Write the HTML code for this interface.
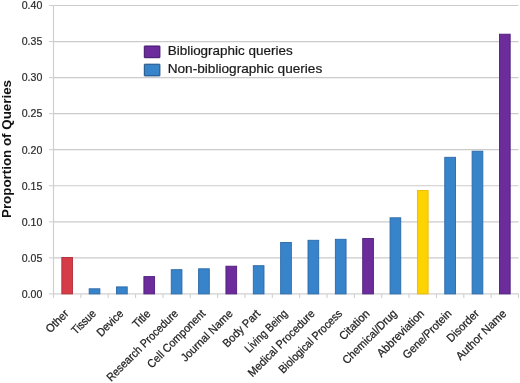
<!DOCTYPE html><html><head><meta charset="utf-8"><style>html,body{margin:0;padding:0;background:#fff;width:520px;height:383px;overflow:hidden}svg{display:block;will-change:transform}text{font-family:"Liberation Sans",sans-serif}</style></head><body>
<svg width="520" height="383" viewBox="0 0 520 383">
<line x1="53.50" y1="5.50" x2="518.50" y2="5.50" stroke="#CBCBCB" stroke-width="1.2"/>
<line x1="53.50" y1="41.55" x2="518.50" y2="41.55" stroke="#CBCBCB" stroke-width="1.2"/>
<line x1="53.50" y1="77.60" x2="518.50" y2="77.60" stroke="#CBCBCB" stroke-width="1.2"/>
<line x1="53.50" y1="113.65" x2="518.50" y2="113.65" stroke="#CBCBCB" stroke-width="1.2"/>
<line x1="53.50" y1="149.70" x2="518.50" y2="149.70" stroke="#CBCBCB" stroke-width="1.2"/>
<line x1="53.50" y1="185.75" x2="518.50" y2="185.75" stroke="#CBCBCB" stroke-width="1.2"/>
<line x1="53.50" y1="221.80" x2="518.50" y2="221.80" stroke="#CBCBCB" stroke-width="1.2"/>
<line x1="53.50" y1="257.85" x2="518.50" y2="257.85" stroke="#CBCBCB" stroke-width="1.2"/>
<line x1="49" y1="5.50" x2="53.50" y2="5.50" stroke="#D0D0D0" stroke-width="1.1"/>
<line x1="49" y1="41.55" x2="53.50" y2="41.55" stroke="#D0D0D0" stroke-width="1.1"/>
<line x1="49" y1="77.60" x2="53.50" y2="77.60" stroke="#D0D0D0" stroke-width="1.1"/>
<line x1="49" y1="113.65" x2="53.50" y2="113.65" stroke="#D0D0D0" stroke-width="1.1"/>
<line x1="49" y1="149.70" x2="53.50" y2="149.70" stroke="#D0D0D0" stroke-width="1.1"/>
<line x1="49" y1="185.75" x2="53.50" y2="185.75" stroke="#D0D0D0" stroke-width="1.1"/>
<line x1="49" y1="221.80" x2="53.50" y2="221.80" stroke="#D0D0D0" stroke-width="1.1"/>
<line x1="49" y1="257.85" x2="53.50" y2="257.85" stroke="#D0D0D0" stroke-width="1.1"/>
<line x1="49" y1="293.90" x2="53.50" y2="293.90" stroke="#D0D0D0" stroke-width="1.1"/>
<line x1="53.50" y1="5.50" x2="53.50" y2="293.90" stroke="#D0D0D0" stroke-width="1.2"/>
<line x1="53.50" y1="293.90" x2="518.50" y2="293.90" stroke="#D0D0D0" stroke-width="1.2"/>
<line x1="53.50" y1="293.90" x2="53.50" y2="297.90" stroke="#D0D0D0" stroke-width="1.1"/>
<line x1="80.85" y1="293.90" x2="80.85" y2="297.90" stroke="#D0D0D0" stroke-width="1.1"/>
<line x1="108.21" y1="293.90" x2="108.21" y2="297.90" stroke="#D0D0D0" stroke-width="1.1"/>
<line x1="135.56" y1="293.90" x2="135.56" y2="297.90" stroke="#D0D0D0" stroke-width="1.1"/>
<line x1="162.91" y1="293.90" x2="162.91" y2="297.90" stroke="#D0D0D0" stroke-width="1.1"/>
<line x1="190.26" y1="293.90" x2="190.26" y2="297.90" stroke="#D0D0D0" stroke-width="1.1"/>
<line x1="217.62" y1="293.90" x2="217.62" y2="297.90" stroke="#D0D0D0" stroke-width="1.1"/>
<line x1="244.97" y1="293.90" x2="244.97" y2="297.90" stroke="#D0D0D0" stroke-width="1.1"/>
<line x1="272.32" y1="293.90" x2="272.32" y2="297.90" stroke="#D0D0D0" stroke-width="1.1"/>
<line x1="299.68" y1="293.90" x2="299.68" y2="297.90" stroke="#D0D0D0" stroke-width="1.1"/>
<line x1="327.03" y1="293.90" x2="327.03" y2="297.90" stroke="#D0D0D0" stroke-width="1.1"/>
<line x1="354.38" y1="293.90" x2="354.38" y2="297.90" stroke="#D0D0D0" stroke-width="1.1"/>
<line x1="381.74" y1="293.90" x2="381.74" y2="297.90" stroke="#D0D0D0" stroke-width="1.1"/>
<line x1="409.09" y1="293.90" x2="409.09" y2="297.90" stroke="#D0D0D0" stroke-width="1.1"/>
<line x1="436.44" y1="293.90" x2="436.44" y2="297.90" stroke="#D0D0D0" stroke-width="1.1"/>
<line x1="463.79" y1="293.90" x2="463.79" y2="297.90" stroke="#D0D0D0" stroke-width="1.1"/>
<line x1="491.15" y1="293.90" x2="491.15" y2="297.90" stroke="#D0D0D0" stroke-width="1.1"/>
<line x1="518.50" y1="293.90" x2="518.50" y2="297.90" stroke="#D0D0D0" stroke-width="1.1"/>
<rect x="61.83" y="257.50" width="10.70" height="36.40" fill="#D63C48" stroke="#B02E3A" stroke-width="0.9"/>
<rect x="89.18" y="288.80" width="10.70" height="5.10" fill="#3884CB" stroke="#2A68A8" stroke-width="0.9"/>
<rect x="116.53" y="286.90" width="10.70" height="7.00" fill="#3884CB" stroke="#2A68A8" stroke-width="0.9"/>
<rect x="143.89" y="276.60" width="10.70" height="17.30" fill="#6C2C9C" stroke="#4E1F7C" stroke-width="0.9"/>
<rect x="171.24" y="269.70" width="10.70" height="24.20" fill="#3884CB" stroke="#2A68A8" stroke-width="0.9"/>
<rect x="198.59" y="268.80" width="10.70" height="25.10" fill="#3884CB" stroke="#2A68A8" stroke-width="0.9"/>
<rect x="225.94" y="266.20" width="10.70" height="27.70" fill="#6C2C9C" stroke="#4E1F7C" stroke-width="0.9"/>
<rect x="253.30" y="265.70" width="10.70" height="28.20" fill="#3884CB" stroke="#2A68A8" stroke-width="0.9"/>
<rect x="280.65" y="242.50" width="10.70" height="51.40" fill="#3884CB" stroke="#2A68A8" stroke-width="0.9"/>
<rect x="308.00" y="240.30" width="10.70" height="53.60" fill="#3884CB" stroke="#2A68A8" stroke-width="0.9"/>
<rect x="335.36" y="239.30" width="10.70" height="54.60" fill="#3884CB" stroke="#2A68A8" stroke-width="0.9"/>
<rect x="362.71" y="238.50" width="10.70" height="55.40" fill="#6C2C9C" stroke="#4E1F7C" stroke-width="0.9"/>
<rect x="390.06" y="217.80" width="10.70" height="76.10" fill="#3884CB" stroke="#2A68A8" stroke-width="0.9"/>
<rect x="417.41" y="190.50" width="10.70" height="103.40" fill="#FFD300" stroke="#E8BC00" stroke-width="0.9"/>
<rect x="444.77" y="157.30" width="10.70" height="136.60" fill="#3884CB" stroke="#2A68A8" stroke-width="0.9"/>
<rect x="472.12" y="151.20" width="10.70" height="142.70" fill="#3884CB" stroke="#2A68A8" stroke-width="0.9"/>
<rect x="499.47" y="34.20" width="10.70" height="259.70" fill="#6C2C9C" stroke="#4E1F7C" stroke-width="0.9"/>
<text x="42.3" y="9.30" font-size="10.5" fill="#2a2a2a" stroke="#2a2a2a" stroke-width="0.2" text-anchor="end" textLength="20.6" lengthAdjust="spacingAndGlyphs">0.40</text>
<text x="42.3" y="45.35" font-size="10.5" fill="#2a2a2a" stroke="#2a2a2a" stroke-width="0.2" text-anchor="end" textLength="20.6" lengthAdjust="spacingAndGlyphs">0.35</text>
<text x="42.3" y="81.40" font-size="10.5" fill="#2a2a2a" stroke="#2a2a2a" stroke-width="0.2" text-anchor="end" textLength="20.6" lengthAdjust="spacingAndGlyphs">0.30</text>
<text x="42.3" y="117.45" font-size="10.5" fill="#2a2a2a" stroke="#2a2a2a" stroke-width="0.2" text-anchor="end" textLength="20.6" lengthAdjust="spacingAndGlyphs">0.25</text>
<text x="42.3" y="153.50" font-size="10.5" fill="#2a2a2a" stroke="#2a2a2a" stroke-width="0.2" text-anchor="end" textLength="20.6" lengthAdjust="spacingAndGlyphs">0.20</text>
<text x="42.3" y="189.55" font-size="10.5" fill="#2a2a2a" stroke="#2a2a2a" stroke-width="0.2" text-anchor="end" textLength="20.6" lengthAdjust="spacingAndGlyphs">0.15</text>
<text x="42.3" y="225.60" font-size="10.5" fill="#2a2a2a" stroke="#2a2a2a" stroke-width="0.2" text-anchor="end" textLength="20.6" lengthAdjust="spacingAndGlyphs">0.10</text>
<text x="42.3" y="261.65" font-size="10.5" fill="#2a2a2a" stroke="#2a2a2a" stroke-width="0.2" text-anchor="end" textLength="20.6" lengthAdjust="spacingAndGlyphs">0.05</text>
<text x="42.3" y="297.70" font-size="10.5" fill="#2a2a2a" stroke="#2a2a2a" stroke-width="0.2" text-anchor="end" textLength="20.6" lengthAdjust="spacingAndGlyphs">0.00</text>
<text transform="translate(11.0,218.0) rotate(-90)" font-size="12.5" font-weight="bold" fill="#111" textLength="138" lengthAdjust="spacingAndGlyphs">Proportion of Queries</text>
<text transform="translate(69.38,314.30) rotate(-45) scale(0.9451,1)" font-size="11.5" fill="#222" stroke="#222" stroke-width="0.25" text-anchor="end">Other</text>
<text transform="translate(96.73,314.30) rotate(-45) scale(0.8733,1)" font-size="11.5" fill="#222" stroke="#222" stroke-width="0.25" text-anchor="end">Tissue</text>
<text transform="translate(124.08,314.30) rotate(-45) scale(0.9223,1)" font-size="11.5" fill="#222" stroke="#222" stroke-width="0.25" text-anchor="end">Device</text>
<text transform="translate(151.44,314.30) rotate(-45) scale(0.9680,1)" font-size="11.5" fill="#222" stroke="#222" stroke-width="0.25" text-anchor="end">Title</text>
<text transform="translate(178.79,314.30) rotate(-45) scale(0.9086,1)" font-size="11.5" fill="#222" stroke="#222" stroke-width="0.25" text-anchor="end">Research Procedure</text>
<text transform="translate(206.14,314.30) rotate(-45) scale(0.9342,1)" font-size="11.5" fill="#222" stroke="#222" stroke-width="0.25" text-anchor="end">Cell Component</text>
<text transform="translate(233.49,314.30) rotate(-45) scale(0.9492,1)" font-size="11.5" fill="#222" stroke="#222" stroke-width="0.25" text-anchor="end">Journal Name</text>
<text transform="translate(260.85,314.30) rotate(-45) scale(0.9449,1)" font-size="11.5" fill="#222" stroke="#222" stroke-width="0.25" text-anchor="end">Body Part</text>
<text transform="translate(288.20,314.30) rotate(-45) scale(0.8821,1)" font-size="11.5" fill="#222" stroke="#222" stroke-width="0.25" text-anchor="end">Living Being</text>
<text transform="translate(315.55,314.30) rotate(-45) scale(0.9312,1)" font-size="11.5" fill="#222" stroke="#222" stroke-width="0.25" text-anchor="end">Medical Procedure</text>
<text transform="translate(342.91,314.30) rotate(-45) scale(0.8992,1)" font-size="11.5" fill="#222" stroke="#222" stroke-width="0.25" text-anchor="end">Biological Process</text>
<text transform="translate(370.26,314.30) rotate(-45) scale(0.9645,1)" font-size="11.5" fill="#222" stroke="#222" stroke-width="0.25" text-anchor="end">Citation</text>
<text transform="translate(397.61,314.30) rotate(-45) scale(0.9411,1)" font-size="11.5" fill="#222" stroke="#222" stroke-width="0.25" text-anchor="end">Chemical/Drug</text>
<text transform="translate(424.96,314.30) rotate(-45) scale(0.9630,1)" font-size="11.5" fill="#222" stroke="#222" stroke-width="0.25" text-anchor="end">Abbreviation</text>
<text transform="translate(452.32,314.30) rotate(-45) scale(0.9421,1)" font-size="11.5" fill="#222" stroke="#222" stroke-width="0.25" text-anchor="end">Gene/Protein</text>
<text transform="translate(479.67,314.30) rotate(-45) scale(0.9243,1)" font-size="11.5" fill="#222" stroke="#222" stroke-width="0.25" text-anchor="end">Disorder</text>
<text transform="translate(507.02,314.30) rotate(-45) scale(0.9695,1)" font-size="11.5" fill="#222" stroke="#222" stroke-width="0.25" text-anchor="end">Author Name</text>
<rect x="144.3" y="46.0" width="15.6" height="11.7" rx="0.3" fill="#6C2C9C" stroke="#3F1466" stroke-width="1"/>
<rect x="144.3" y="64.2" width="15.6" height="11.7" rx="0.3" fill="#3884CB" stroke="#1F4E80" stroke-width="1"/>
<text x="167.7" y="55.1" font-size="12.2" fill="#1a1a1a" stroke="#1a1a1a" stroke-width="0.2" textLength="125" lengthAdjust="spacingAndGlyphs">Bibliographic queries</text>
<text x="167.7" y="72.9" font-size="12.2" fill="#1a1a1a" stroke="#1a1a1a" stroke-width="0.2" textLength="154.6" lengthAdjust="spacingAndGlyphs">Non-bibliographic queries</text>
</svg></body></html>
